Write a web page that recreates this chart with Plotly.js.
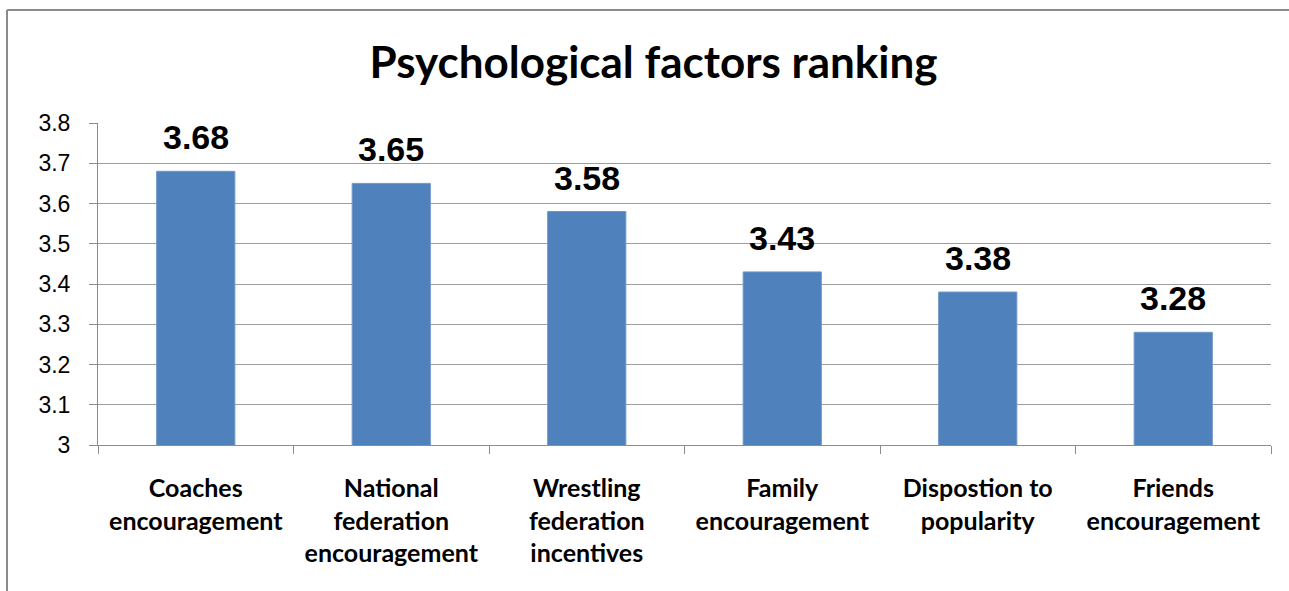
<!DOCTYPE html>
<html>
<head>
<meta charset="utf-8">
<script src="https://cdn.plot.ly/plotly-3.0.1.min.js"></script>
<style>
html,body{margin:0;padding:0;background:#fff;}
#chart{width:1289px;height:591px;}
</style>
</head>
<body>
<div id="chart"></div>
<script>
const categories = ["Coaches<br>encouragement", "National<br>federation<br>encouragement", "Wrestling<br>federation<br>incentives", "Family<br>encouragement", "Dispostion to<br>popularity", "Friends<br>encouragement"];
const values = [3.68, 3.65, 3.58, 3.43, 3.38, 3.28];
const valueLabels = ["3.68", "3.65", "3.58", "3.43", "3.38", "3.28"];
const yTickVals = [3, 3.1, 3.2, 3.3, 3.4, 3.5, 3.6, 3.7, 3.8];
const yTickText = ["3", "3.1", "3.2", "3.3", "3.4", "3.5", "3.6", "3.7", "3.8"];

const trace = {
  type: 'bar',
  x: categories,
  y: values,
  marker: {color: '#4F81BD', line: {color: '#6f97c9', width: 1}},
  width: 0.4,
  hoverinfo: 'none'
};

const annotations = categories.map((c, i) => ({
  x: c, y: values[i], xref: 'x', yref: 'y',
  text: '<b>' + valueLabels[i] + '</b>',
  showarrow: false, yanchor: 'bottom', yshift: 13,
  font: {family: 'Arial, Liberation Sans, sans-serif', size: 34, color: '#000'}
}));

const layout = {
  width: 1289, height: 591,
  margin: {l: 98, r: 18, t: 123, b: 146, pad: 0},
  paper_bgcolor: '#fff', plot_bgcolor: '#fff',
  showlegend: false,
  bargap: 0.6,
  title: {
    text: '<b>Psychological factors ranking</b>',
    font: {family: 'Lato, Carlito, sans-serif', size: 44, color: '#000'},
    x: 0.507, xref: 'container', xanchor: 'center',
    y: 1 - 63/591, yref: 'container', yanchor: 'middle'
  },
  xaxis: {
    type: 'category',
    tickson: 'boundaries',
    ticks: 'outside', ticklen: 8, tickcolor: '#8c8c8c', tickwidth: 1,
    showline: true, linecolor: '#8c8c8c', linewidth: 1,
    showgrid: false,
    tickfont: {family: 'Lato, Carlito, sans-serif', size: 25, color: '#000', weight: 'bold'},
    ticklabelstandoff: 21,
    fixedrange: true
  },
  yaxis: {
    range: [3, 3.8],
    tickvals: yTickVals, ticktext: yTickText,
    ticks: 'outside', ticklen: 8, tickcolor: '#8c8c8c', tickwidth: 1,
    showline: true, linecolor: '#8c8c8c', linewidth: 1,
    showgrid: true, gridcolor: '#9e9e9e', gridwidth: 1,
    zeroline: false,
    tickfont: {family: 'Arial, Liberation Sans, sans-serif', size: 23, color: '#000'},
    ticklabelstandoff: 14,
    fixedrange: true
  },
  annotations: annotations,
  shapes: [
    {type: 'line', xref: 'paper', yref: 'paper',
     x0: (7 - 98) / 1173, x1: (7 - 98) / 1173,
     y0: 1 + (123 - 10) / 322, y1: -(591 - 445) / 322,
     line: {color: '#8a8a8a', width: 2}},
    {type: 'line', xref: 'paper', yref: 'paper',
     x0: (7 - 98) / 1173, x1: (1289 - 98) / 1173,
     y0: 1 + (123 - 10) / 322, y1: 1 + (123 - 10) / 322,
     line: {color: '#8a8a8a', width: 2}}
  ]
};

Plotly.newPlot('chart', [trace], layout, {staticPlot: true, displayModeBar: false});
</script>
</body>
</html>
